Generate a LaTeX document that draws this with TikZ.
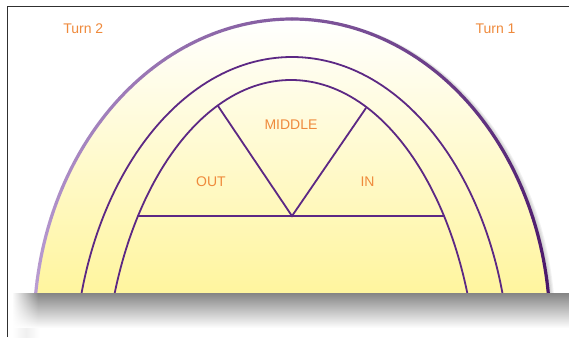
\documentclass[tikz,border=0pt]{standalone}
\usepackage{fontspec}
\setmainfont{Liberation Sans}
\usetikzlibrary{fadings}
\definecolor{archlight}{RGB}{190,162,214}
\definecolor{archdark}{RGB}{70,18,102}
\definecolor{linep}{RGB}{92,40,132}
\definecolor{txt}{RGB}{239,138,60}
\definecolor{yel}{RGB}{255,245,158}
\definecolor{framec}{RGB}{48,48,48}
\tikzfading[name=fadeouteast, left color=transparent!0, right color=transparent!100]
\begin{document}
\begin{tikzpicture}[x=1pt,y=-1pt,
  lbl/.style={text=txt, font=\fontsize{14}{16}\selectfont, inner sep=0pt},
  arcline/.style={draw=linep, line width=1.8pt},
  divline/.style={draw=linep, line width=1.8pt, line cap=round}]
\useasboundingbox (0,0) rectangle (569,337);
\fill[white] (0,0) rectangle (569,337);
% frame
\draw[framec, line width=1.4pt] (7.3,337) -- (7.3,6.7) -- (569,6.7);
\begin{scope}
  \clip (0,0) rectangle (569,293);
  % soft shadow of the outer arch
  \foreach \k in {1,...,5}
    \fill[black, opacity=0.05, xshift=\k*1.1pt] (292,329) ellipse [x radius=258, y radius=310];
  % gradient fill
  \begin{scope}
    \clip (292,329) ellipse [x radius=258, y radius=310];
    \shade[top color=white, bottom color=yel] (0,19) rectangle (569,293);
  \end{scope}
  % middle and inner arches
  \draw[arcline] (292,377) ellipse [x radius=218, y radius=320];
  \draw[arcline] (291,400) ellipse [x radius=187, y radius=320];
  % outer stroke, light to dark
  \foreach \i in {0,...,59} {
    \pgfmathsetmacro\ta{180+3*\i}
    \pgfmathsetmacro\tb{\ta+3}
    \pgfmathsetmacro\m{100*\i/59}
    \draw[archdark!\m!archlight, line width=3.2pt, line cap=round]
      ([shift={(\ta:258 and 310)}]292,329) arc[start angle=\ta, end angle=\tb, x radius=258, y radius=310];
  }
\end{scope}
% divisions
\coordinate (HL) at (138,216);
\coordinate (HR) at (444,216);
\coordinate (V) at (292,216);
\coordinate (L) at (218,106);
\coordinate (R) at (366,108);
\draw[divline] (HL) -- (HR);
\draw[divline] (L) -- (V) -- (R);
% shadow bar
\shade[top color=black!48, middle color=black!30, bottom color=white] (13,293) rectangle (569,328);
\fill[white, path fading=fadeouteast] (12,292.5) rectangle (38,330);
\shade[left color=white, right color=white, middle color=black!6] (12,328) rectangle (40,337);
% labels
\node[lbl] (t2) at (83.3,28.5) {Turn 2};
\node[lbl] (t1) at (495.5,28.5) {Turn 1};
\node[lbl] (mid) at (291,124.5) {MIDDLE};
\node[lbl] (out) at (211,181.5) {OUT};
\node[lbl] (in) at (367.5,181.5) {IN};
\end{tikzpicture}
\end{document}
